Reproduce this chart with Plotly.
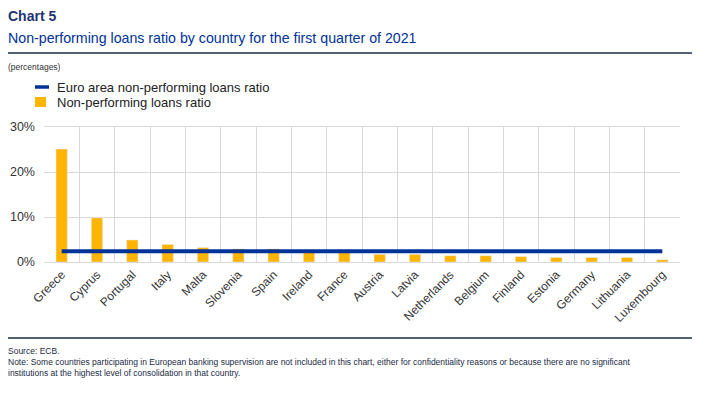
import plotly.graph_objects as go

countries = ["Greece", "Cyprus", "Portugal", "Italy", "Malta", "Slovenia", "Spain",
             "Ireland", "France", "Austria", "Latvia", "Netherlands", "Belgium",
             "Finland", "Estonia", "Germany", "Lithuania", "Luxembourg"]
npl_ratio = [25.1, 9.8, 4.9, 3.9, 3.2, 2.9, 2.9, 2.5, 2.4, 1.7, 1.7, 1.4, 1.4,
             1.2, 1.0, 1.0, 1.0, 0.5]
euro_area_ratio = 2.4
y_ticks = [0, 10, 20, 30]
y_tick_labels = ["0%", "10%", "20%", "30%"]

OFF = 8  # browser default body margin
W, H = 708 - OFF, 394 - OFF
PL, PR, PT, PB = 44 - OFF, 680 - OFF, 127 - OFF, 262 - OFF  # plot area in figure pixels
FONT = "Liberation Sans, Arial, sans-serif"
NAVY = "#003299"
YELLOW = "#FFB400"


def px(x):
    return (x - OFF - PL) / (PR - PL)


def py(y):
    return (PB - (y - OFF)) / (PB - PT)


fig = go.Figure()
fig.add_trace(go.Bar(x=countries, y=npl_ratio, marker_color=YELLOW,
                     name="Non-performing loans ratio", showlegend=False))
fig.add_trace(go.Scatter(x=countries, y=[euro_area_ratio] * len(countries),
                         mode="lines", line=dict(color=NAVY, width=4),
                         name="Euro area non-performing loans ratio", showlegend=False))

shapes = [
    dict(type="line", xref="paper", yref="paper", x0=px(8), x1=px(692), y0=py(53), y1=py(53),
         line=dict(color="#1a2a44", width=1.3)),
    dict(type="line", xref="paper", yref="paper", x0=px(8), x1=px(692), y0=py(338), y1=py(338),
         line=dict(color="#1a2a44", width=1.3)),
    dict(type="line", xref="paper", yref="paper", x0=px(35), x1=px(49), y0=py(87), y1=py(87),
         line=dict(color=NAVY, width=3.5)),
    dict(type="rect", xref="paper", yref="paper", x0=px(35), x1=px(46), y0=py(97), y1=py(107),
         fillcolor=YELLOW, line=dict(width=0)),
]


def txt(x, y, s, size, color="#222222", bold=False):
    return dict(xref="paper", yref="paper", x=px(x), y=py(y), text=("<b>%s</b>" % s) if bold else s,
                showarrow=False, xanchor="left", yanchor="middle", xshift=-2,
                font=dict(family=FONT, size=size, color=color), align="left")


annotations = [
    txt(8, 16, "Chart 5", 14, "#1d3372", bold=True),
    txt(8, 38, "Non-performing loans ratio by country for the first quarter of 2021", 14.2, NAVY),
    txt(8, 67, "(percentages)", 8.5, "#333333"),
    txt(57, 87, "Euro area non-performing loans ratio", 13, "#222222"),
    txt(57, 102, "Non-performing loans ratio", 13, "#222222"),
    txt(8, 351, "Source: ECB.", 8.5, "#1a2a44"),
    dict(xref="paper", yref="paper", x=px(8), y=py(355), xanchor="left", yanchor="top",
         showarrow=False, align="left", xshift=-2,
         text="Note: Some countries participating in European banking supervision are not included in this chart, either for confidentiality reasons or because there are no significant<br>institutions at the highest level of consolidation in that country.",
         font=dict(family=FONT, size=8.5, color="#1a2a44")),
]

fig.update_layout(
    width=W, height=H,
    margin=dict(l=PL, r=W - PR, t=PT, b=H - PB, autoexpand=False),
    paper_bgcolor="white", plot_bgcolor="white",
    bargap=0.68,
    shapes=shapes, annotations=annotations,
    font=dict(family=FONT, color="#333333"),
    xaxis=dict(tickangle=-45, tickson="boundaries", showgrid=True, gridcolor="#d9d9d9",
               gridwidth=1, ticks="", tickfont=dict(size=12, color="#333333"),
               showline=True, linecolor="#d9d9d9", mirror=True, automargin=False),
    yaxis=dict(range=[0, 30], tickvals=y_ticks, ticktext=y_tick_labels, showgrid=True,
               gridcolor="#d9d9d9", zeroline=False, tickfont=dict(size=12.5, color="#333333"),
               showline=False, ticks="", ticklabelstandoff=8, automargin=False),
)

fig.write_html("out.html")
